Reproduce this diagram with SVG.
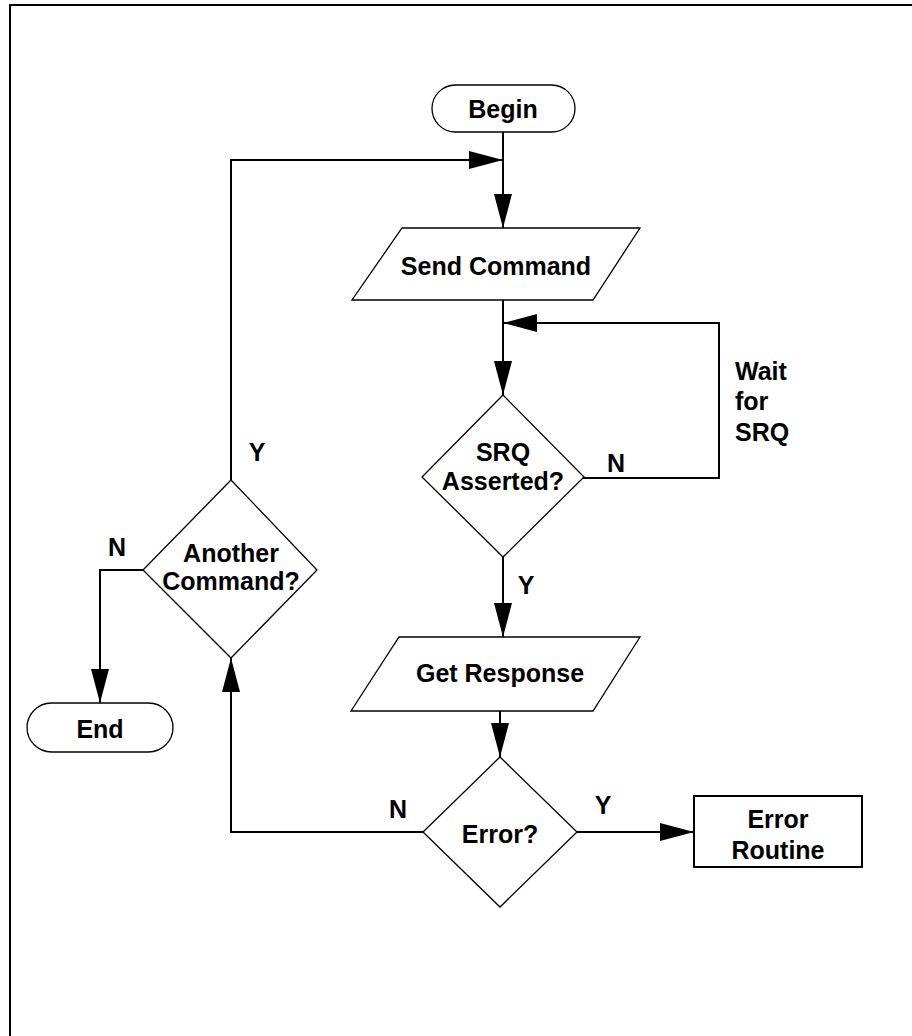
<svg xmlns="http://www.w3.org/2000/svg" width="912" height="1036" viewBox="0 0 912 1036">
<defs>
<style>
text{font-family:"Liberation Sans",Arial,sans-serif;font-weight:bold;font-size:25px;fill:#000}
.c{text-anchor:middle}
.shape{fill:#fff;stroke:#000;stroke-width:1.3}
.box{fill:#fff;stroke:#000;stroke-width:2}
.conn{fill:none;stroke:#000;stroke-width:2}
</style>
<marker id="arr" markerUnits="userSpaceOnUse" markerWidth="35" markerHeight="20" refX="34" refY="10" orient="auto">
<path d="M0,1 L34,10 L0,19 z" fill="#000"/>
</marker>
</defs>
<rect width="912" height="1036" fill="#fff"/>
<path d="M10,1040 V5 H916" fill="none" stroke="#000" stroke-width="2"/>

<g id="connectors">
<path class="conn" d="M503,132 V228" marker-end="url(#arr)"/>
<path class="conn" d="M231,498 V160 H503" marker-end="url(#arr)"/>
<path class="conn" d="M503,300 V395" marker-end="url(#arr)"/>
<path class="conn" d="M583,478 H719 V323 H503" marker-end="url(#arr)"/>
<path class="conn" d="M503,557 V637" marker-end="url(#arr)"/>
<path class="conn" d="M500,711 V757" marker-end="url(#arr)"/>
<path class="conn" d="M577,832 H694" marker-end="url(#arr)"/>
<path class="conn" d="M423,832 H231 V658" marker-end="url(#arr)"/>
<path class="conn" d="M153,570 H100 V703" marker-end="url(#arr)"/>
</g>

<g id="begin">
<rect class="shape" x="432" y="85" width="143" height="47" rx="23.5"/>
<text class="c" x="503" y="118">Begin</text>
</g>
<g id="send-command">
<polygon class="shape" points="402,228 640,228 593,300 352,300"/>
<text class="c" x="496" y="275">Send Command</text>
</g>
<g id="srq-asserted">
<polygon class="shape" points="503,395 584,477 503,557 422,477"/>
<text class="c" x="503" y="461">SRQ</text>
<text class="c" x="503" y="490">Asserted?</text>
</g>
<g id="wait-label">
<text x="735" y="380">Wait</text>
<text x="735" y="410">for</text>
<text x="735" y="441">SRQ</text>
</g>
<g id="get-response">
<polygon class="shape" points="399,637 640,637 593,711 351,711"/>
<text class="c" x="500" y="682">Get Response</text>
</g>
<g id="error">
<polygon class="shape" points="500,757 577,832 500,907 423,832"/>
<text class="c" x="500" y="843">Error?</text>
</g>
<g id="error-routine">
<rect class="box" x="694" y="796" width="168" height="71"/>
<text class="c" x="778" y="828">Error</text>
<text class="c" x="778" y="859">Routine</text>
</g>
<g id="another-command">
<polygon class="shape" points="231,480 317,570 231,658 143,570"/>
<text class="c" x="231" y="562">Another</text>
<text class="c" x="231" y="590">Command?</text>
</g>
<g id="end">
<rect class="shape" x="27" y="703" width="146" height="49" rx="24.5"/>
<text class="c" x="100" y="738">End</text>
</g>
<g id="labels">
<text class="c" x="257" y="461">Y</text>
<text class="c" x="616" y="472">N</text>
<text class="c" x="526" y="594">Y</text>
<text class="c" x="117" y="556">N</text>
<text class="c" x="398" y="818">N</text>
<text class="c" x="603" y="814">Y</text>
</g>
</svg>
